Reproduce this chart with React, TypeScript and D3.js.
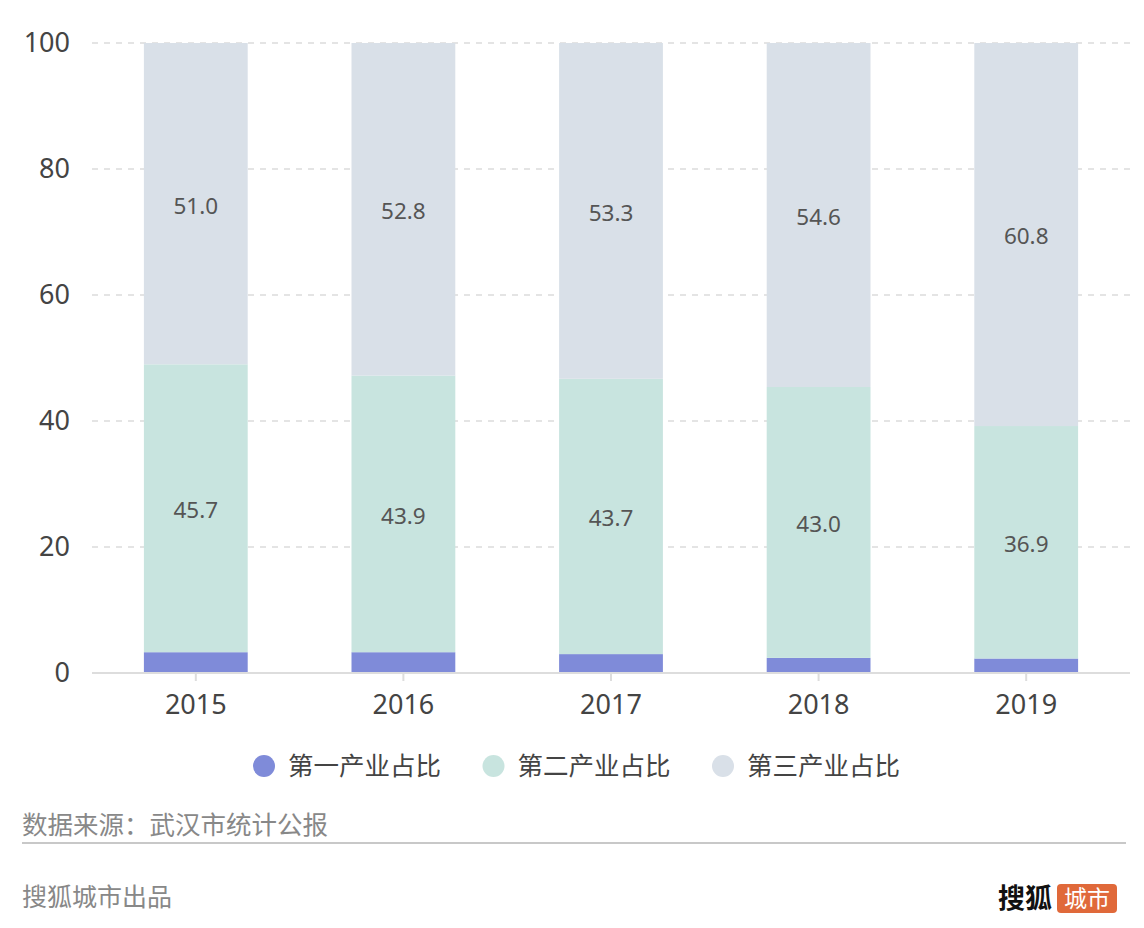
import React from "react";
import * as d3 from "d3";

const years = ["2015", "2016", "2017", "2018", "2019"];
const primary = [3.3, 3.3, 3.0, 2.4, 2.3];
const secondary = [45.7, 43.9, 43.7, 43.0, 36.9];
const tertiary = [51.0, 52.8, 53.3, 54.6, 60.8];
const seriesNames = ["第一产业占比", "第二产业占比", "第三产业占比"];
const colors = ["#7f8bd9", "#c8e4df", "#d9e0e8"];
const yTicks = [0, 20, 40, 60, 80, 100];

const W = 1144, H = 928;
const FONT = '"Noto Sans", "Noto Sans CJK SC", sans-serif';

export default function App() {
  const x = d3.scaleBand<string>().domain(years).range([92, 1130]).paddingInner(0.5).paddingOuter(0.25);
  const y = d3.scaleLinear().domain([0, 100]).range([673, 43]);
  const rows = years.map((yr, i) => ({ year: yr, a: primary[i], b: secondary[i], c: tertiary[i] }));
  const stack = d3.stack<any>().keys(["a", "b", "c"])(rows);
  const bandCenter = (yr: string) => (x(yr) as number) + x.bandwidth() / 2;

  return (
    <svg width={W} height={H} style={{ position: "absolute", left: 0, top: 0, fontFamily: FONT }}>
      <rect width={W} height={H} fill="#fff" />
      {yTicks.filter(t => t > 0).map(t => (
        <line key={t} x1={92} x2={1130} y1={y(t)} y2={y(t)} stroke="#dcdcdc" strokeWidth={1.5} strokeDasharray="6,6" />
      ))}
      {yTicks.map(t => (
        <text key={t} x={70} y={y(t)} dy="0.35em" textAnchor="end" fontSize={27} fill="#444">{t}</text>
      ))}
      {stack.map((s, si) => (
        <g key={si}>
          {s.map((d, i) => (
            <rect key={i} x={x(years[i])} width={x.bandwidth()} y={y(d[1])} height={y(d[0]) - y(d[1])} fill={colors[si]} />
          ))}
        </g>
      ))}
      {stack.slice(1).map((s, si) => (
        <g key={"l" + si}>
          {s.map((d, i) => (
            <text key={i} x={bandCenter(years[i])} y={y((d[0] + d[1]) / 2) + 2} dy="0.35em" textAnchor="middle" fontSize={22.5} fill="#555">
              {(d[1] - d[0]).toFixed(1)}
            </text>
          ))}
        </g>
      ))}
      <line x1={92} x2={1130} y1={y(0)} y2={y(0)} stroke="#dddddd" strokeWidth={2} />
      {years.map(yr => (
        <g key={yr}>
          <line x1={bandCenter(yr)} x2={bandCenter(yr)} y1={y(0)} y2={y(0) + 8} stroke="#dddddd" strokeWidth={2} />
          <text x={bandCenter(yr)} y={705} dy="0.35em" textAnchor="middle" fontSize={27} fill="#444">{yr}</text>
        </g>
      ))}
      {seriesNames.map((n, i) => {
        const lx = 264 + i * 229.5;
        return (
          <g key={n}>
            <circle cx={lx} cy={766} r={11} fill={colors[i]} />
            <text x={lx + 24} y={766} dy="0.35em" fontSize={25.5} fill="#444">{n}</text>
          </g>
        );
      })}
      <text x={22} y={825} dy="0.35em" fontSize={25.5} fill="#888">数据来源：武汉市统计公报</text>
      <line x1={22} x2={1126} y1={843} y2={843} stroke="#c8c8c8" strokeWidth={2} />
      <text x={22} y={897} dy="0.35em" fontSize={25} fill="#888">搜狐城市出品</text>
      <text x={998} y={899} dy="0.35em" fontSize={27} fontWeight="bold" fill="#111">搜狐</text>
      <rect x={1057} y={884} width={60} height={29} rx={4} fill="#e0693a" />
      <text x={1087} y={899} dy="0.35em" textAnchor="middle" fontSize={23} fill="#fff">城市</text>
    </svg>
  );
}
